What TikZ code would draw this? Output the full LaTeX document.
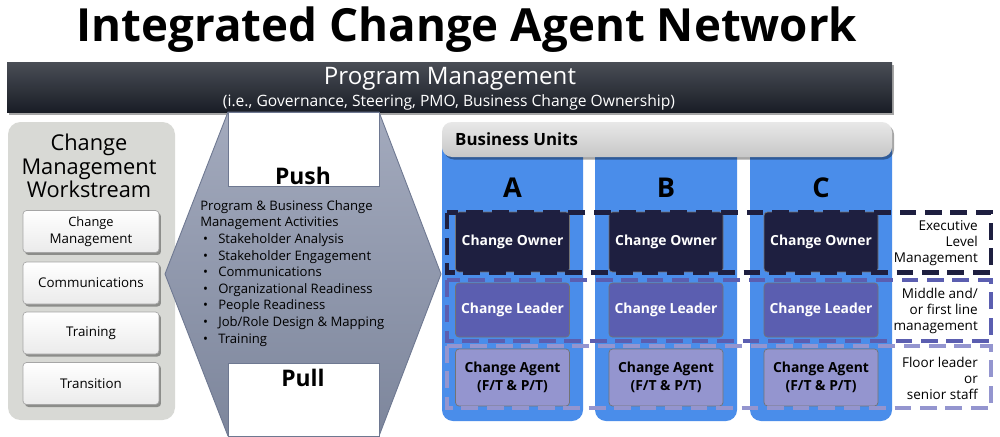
\documentclass[tikz,border=0pt]{standalone}
\usepackage{fontspec}
\setmainfont{Open Sans}
\usetikzlibrary{shadows}
\definecolor{navy}{HTML}{1E1F40}
\definecolor{leader}{HTML}{5B5EB0}
\definecolor{agent}{HTML}{9495CF}
\definecolor{unitblue}{HTML}{4A8DEA}
\definecolor{panelgray}{HTML}{D8D9D5}
\definecolor{hexline}{HTML}{6E7891}
\definecolor{hextop}{HTML}{A3AABD}
\definecolor{hexbot}{HTML}{7D869C}
\definecolor{bartop}{HTML}{4A4E56}
\definecolor{barbot}{HTML}{191D26}
\newcommand{\fsz}[2]{\fontsize{#1}{#2}\selectfont}
\begin{document}
\begin{tikzpicture}[x=0.02cm,y=-0.02cm,
  softshadow/.style={drop shadow={shadow xshift=0.04cm,shadow yshift=-0.05cm,opacity=0.35,fill=black}},
  wsbox/.style={rounded corners=2pt, minimum width=2.72cm, minimum height=0.84cm, inner sep=0pt,
    top color=white, bottom color=black!8, draw=black!35, line width=0.4pt, softshadow,
    align=center, font=\fsz{7.6}{9.5}},
  unitbox/.style={rounded corners=2pt, minimum width=2.28cm, inner sep=0pt, draw=black!55,
    line width=0.4pt, align=center, font=\fsz{7.9}{10}\bfseries},
  ownerbox/.style={unitbox, fill=navy, text=white, minimum height=1.2cm},
  leaderbox/.style={unitbox, fill=leader, text=white, minimum height=1.08cm},
  agentbox/.style={unitbox, fill=agent, text=black, minimum height=1.14cm},
  levelline/.style={line width=2.8pt, dash pattern=on 9.5pt off 5pt},
  levellabel/.style={anchor=east, align=right, font=\fsz{7.7}{9.1}},
  letter/.style={font=\fsz{15.5}{18}\bfseries},
  pushpull/.style={font=\fsz{13}{15}\bfseries},
  bul/.style={}
]
\useasboundingbox (0,0) rectangle (1000,436);
\fill[white] (0,0) rectangle (1000,436);

% title
\node[font=\fsz{26}{30}\bfseries] (title) at (467,30) {Integrated Change Agent Network};

% program management bar
\path[top color=bartop, bottom color=barbot, softshadow] (7,62) rectangle (892,112);
\node[text=white, font=\fsz{13.7}{16}] (pmt) at (450,79) {Program Management};
\node[text=white, font=\fsz{8.9}{10}] (pms) at (449,102) {(i.e., Governance, Steering, PMO, Business Change Ownership)};

% left panel
\path[fill=panelgray, rounded corners=0.25cm] (8,122) rectangle (175,420);
\node[align=center, font=\fsz{12.4}{13.3}] (wst) at (89,166) {Change\\Management\\Workstream};
\node[wsbox] (ws1) at (91,231.5) {\fsz{7.3}{9.5}Change\\Management};
\node[wsbox] (ws2) at (91,283) {Communications};
\node[wsbox] (ws3) at (91,333) {Training};
\node[wsbox] (ws4) at (91,383.5) {Transition};

% hexagon (push/pull)
\path[top color=hextop, bottom color=hexbot, draw=hexline, line width=0.5pt]
  (165,274) -- (228,112) -- (379,112) -- (441,274) -- (379,436) -- (228,436) -- cycle;
\path[fill=white, draw=hexline, line width=0.5pt] (228,112) rectangle (379,186);
\path[fill=white, draw=hexline, line width=0.5pt] (228,363) rectangle (379,436);
\node[pushpull] (push) at (303,176) {Push};
\node[pushpull] (pull) at (303,378) {Pull};
\node[anchor=north west, align=left, inner sep=0pt, font=\fsz{7.45}{9.45}] (acts) at (200,200) {%
  Program \& Business Change\\
  Management Activities\\
  \makebox[10.2pt][l]{\hspace{1.6pt}•}Stakeholder Analysis\\
  \makebox[10.2pt][l]{\hspace{1.6pt}•}Stakeholder Engagement\\
  \makebox[10.2pt][l]{\hspace{1.6pt}•}Communications\\
  \makebox[10.2pt][l]{\hspace{1.6pt}•}Organizational Readiness\\
  \makebox[10.2pt][l]{\hspace{1.6pt}•}People Readiness\\
  \makebox[10.2pt][l]{\hspace{1.6pt}•}Job/Role Design \& Mapping\\
  \makebox[10.2pt][l]{\hspace{1.6pt}•}Training};

% business unit columns
\foreach \c/\xa/\xb/\l in {a/442/583/A, b/595/737/B, c/750/892/C}{
  \path[fill=unitblue, rounded corners=0.22cm] (\xa,140) rectangle (\xb,421);
  \node[letter] (let\c) at ({(\xa+\xb)/2},188) {\l};
  \node[ownerbox] (own\c) at ({(\xa+\xb)/2},242) {Change Owner};
  \node[leaderbox] (lead\c) at ({(\xa+\xb)/2},310) {Change Leader};
  \node[agentbox] (agt\c) at ({(\xa+\xb)/2},377.5) {Change Agent\\(F/T \& P/T)};
}
\path[top color=black!9, bottom color=black!22, rounded corners=0.2cm, softshadow]
  (442,157) -- (442,122) -- (892,122) -- (892,157) -- cycle;
\node[anchor=west, font=\fsz{9.6}{11}\bfseries] (bu) at (449,139) {Business Units};

% level outlines
\draw[levelline, draw=agent] (447,346) rectangle (991,408);
\draw[levelline, draw=leader] (447,280) rectangle (991,341);
\draw[levelline, draw=navy] (447,212.5) rectangle (991,272.5);

\node[levellabel] (lvl1) at (984,243) {Executive\\Level\\Management};
\node[levellabel] (lvl2) at (984,311) {Middle and/\\or first line\\management};
\node[levellabel] (lvl3) at (984,378) {Floor leader\\or\\senior staff};
\end{tikzpicture}
\end{document}
